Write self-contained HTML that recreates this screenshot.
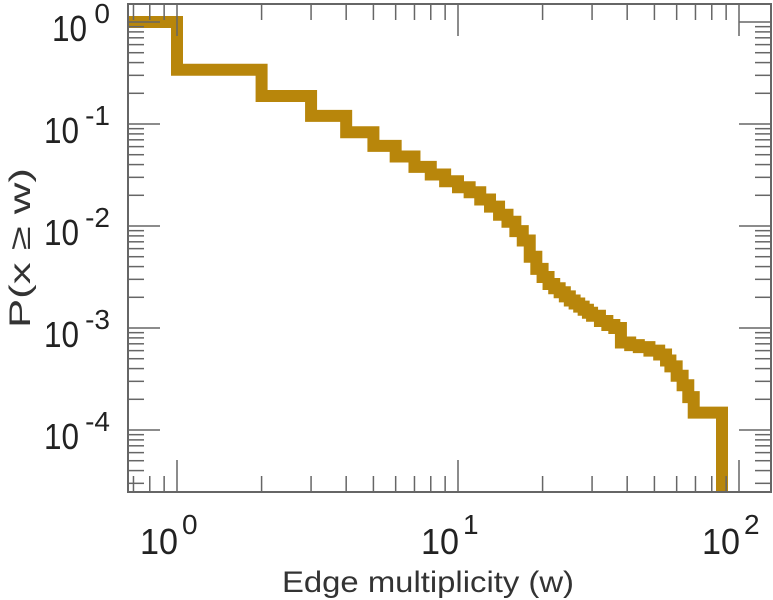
<!DOCTYPE html>
<html><head><meta charset="utf-8"><style>
html,body{margin:0;padding:0;background:#fff;}
svg{display:block;font-family:"Liberation Sans",sans-serif;}
</style></head><body>
<svg id="chart" width="773" height="600"></svg>
<script>
const stepW = [0.6,1,2,3,4,5,6,7,8,9,10,11,12,13,14,15,16,17,18,19,20,21,22,23,24,25,26,27,28,29,30,32,34,36,38,41,44,48,52,55,57,60,63,66,69,87];
const stepP = [1,0.34,0.188,0.12,0.083,0.061,0.048,0.038,0.032,0.0275,0.024,0.0214,0.0182,0.0155,0.0129,0.011,0.0089,0.0072,0.005,0.0038,0.00316,0.0027,0.00245,0.00224,0.00204,0.00186,0.00174,0.00162,0.00151,0.00141,0.00132,0.00117,0.00107,0.001,0.00072,0.00068,0.00065,0.0006,0.00055,0.00048,0.00042,0.00034,0.000275,0.00021,0.000148,0.00001];
const xTickExp = [0,1,2];
const yTickExp = [0,-1,-2,-3,-4];

const NS="http://www.w3.org/2000/svg";
const svg=document.getElementById('chart');
const L=128,R=771,T=4,B=492;
const X0=177,DX=281,Y0=22,DY=102;
function xs(w){return X0+DX*Math.log10(w);}
function ys(p){return Y0-DY*Math.log10(p);}
function mk(tag,attrs,parent){const e=document.createElementNS(NS,tag);for(const k in attrs)e.setAttribute(k,attrs[k]);(parent||svg).appendChild(e);return e;}

const clip=mk('clipPath',{id:'pc'});mk('rect',{x:L,y:T,width:R-L,height:B-T},clip);

let d='';
for(let i=0;i<stepW.length;i++){
  const x=Math.max(xs(stepW[i]),L-10), y=ys(stepP[i]);
  const xn = i+1<stepW.length? xs(stepW[i+1]) : x;
  if(i===0) d+='M'+x+','+y; else d+='V'+y;
  d+='H'+xn;
}
const line=mk('path',{d:d,fill:'none',stroke:'#b8860b','stroke-width':12,'stroke-linejoin':'miter','clip-path':'url(#pc)'});



const tg=mk('g',{stroke:'#666','stroke-width':1.5});


for(let e=-1;e<=2;e++){for(let m=1;m<10;m++){const x=xs(m*Math.pow(10,e));if(x<L||x>R)continue;const len=m===1?32:16;
  mk('line',{x1:x,x2:x,y1:B,y2:B-len},tg);mk('line',{x1:x,x2:x,y1:T,y2:T+len},tg);}}
for(let e=-5;e<=0;e++){for(let m=1;m<10;m++){const y=ys(m*Math.pow(10,e));if(y<T||y>B)continue;const len=m===1?32:16;
  mk('line',{x1:L,x2:L+len,y1:y,y2:y},tg);mk('line',{x1:R,x2:R-len,y1:y,y2:y},tg);}}
const fr=mk('rect',{x:L,y:T,width:R-L,height:B-T,fill:'none',stroke:'#666','stroke-width':2});



xTickExp.forEach(e=>{const xc=xs(Math.pow(10,e));
  const t=mk('text',{x:xc-37,y:554,'font-size':36,textLength:38,lengthAdjust:'spacingAndGlyphs',fill:'#222'});
  t.textContent='10';
  
  
  const s=mk('text',{x:xc+5,y:534,'font-size':28,fill:'#222'});s.textContent=String(e);
  
  });
yTickExp.forEach(e=>{const yc=ys(Math.pow(10,e));
  const t=mk('text',{x:e===0?52:44,y:yc+19,'font-size':36,textLength:35,lengthAdjust:'spacingAndGlyphs',fill:'#222'});
  t.textContent='10';
  
  
  const s=mk('text',{x:110,y:yc+1,'font-size':28,'text-anchor':'end',fill:'#222'});s.textContent=String(e);
  
  });

const xt=mk('text',{x:428,y:592,'font-size':30,'text-anchor':'middle',textLength:292,lengthAdjust:'spacingAndGlyphs',fill:'#333'});xt.textContent='Edge multiplicity (w)';


const yt=mk('text',{x:0,y:0,'font-size':30,'text-anchor':'middle',textLength:160,lengthAdjust:'spacingAndGlyphs',fill:'#333',transform:'translate(30,248) rotate(-90)'});yt.textContent='P(x \u2265 w)';


</script>
</body></html>
